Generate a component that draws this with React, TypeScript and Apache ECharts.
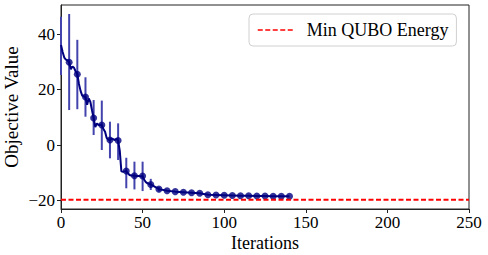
import React, { useEffect, useRef } from "react";
import * as echarts from "echarts";

// line (per-iteration early, every 5 later)
const lineIters = [
  0, 1, 2, 3, 4, 5, 6, 7, 8, 9, 10, 11, 12, 13, 14, 15, 16, 17, 18, 19, 20,
  21, 22, 23, 24, 25, 26, 27, 28, 29, 30, 31, 32, 33, 34, 35, 36, 37, 38, 39, 40,
  41, 42, 43, 44, 45, 46, 47, 48, 49, 50, 51, 52, 53, 54, 55,
  60, 65, 70, 75, 80, 85, 90, 95, 100, 105, 110, 115, 120, 125, 130, 135, 140,
];
const lineValues = [
  36, 33.5, 31.5, 30.8, 30.5, 29.8, 27.3, 28.3, 27.8, 26.5, 25.5, 22, 19.5, 17.8, 17.5, 17.3, 14.5, 16.8, 15.5, 12.5, 9.7,
  6.5, 7.8, 7.2, 7.3, 7.2, 5.8, 4.8, 2.5, 2.0, 1.8, 2.3, 2.1, 1.8, 2.2, 1.6, -2, -9.5, -9.6, -9.5, -9.4,
  -10.2, -10.8, -11, -11, -11.1, -11.2, -11.2, -11.2, -11.3, -11.2, -12.5, -13.4, -13.8, -14, -14.2,
  -15.9, -16.5, -16.8, -17.0, -17.2, -17.4, -17.9, -18.0, -18.1, -18.2, -18.3, -18.3, -18.4, -18.4, -18.5, -18.5, -18.5,
];

// markers and error bars every 5 iterations
const markerIters = [5, 10, 15, 20, 25, 30, 35, 40, 45, 50, 55, 60, 65, 70, 75, 80, 85, 90, 95, 100, 105, 110, 115, 120, 125, 130, 135, 140];
const errIters = [0, 5, 10, 15, 20, 25, 30, 35, 40, 45, 50, 55, 60];
const errCenters = [35.7, 29.9, 25.4, 17.3, 9.9, 7.1, 1.8, 1.2, -10.1, -11.0, -11.3, -14.2, -15.9];
const errSizes = [10.5, 17.3, 12.5, 7.1, 6.3, 8.9, 6.6, 6.6, 5.5, 5.0, 5.3, 2.0, 0.8];

const minEnergy = -19.7;

const yTicks = [-20, 0, 20, 40];

const FONT = "'Liberation Serif', 'Times New Roman', serif";

export default function App() {
  const ref = useRef<HTMLDivElement>(null);
  useEffect(() => {
    if (!ref.current) return;
    const chart = echarts.init(ref.current, undefined, { renderer: "svg" });
    const lineData = lineIters.map((x, i) => [x, lineValues[i]]);
    const markerData = markerIters.map((x) => [x, lineValues[lineIters.indexOf(x)]]);
    const errData = errIters.map((x, i) => [x, errCenters[i] - errSizes[i], errCenters[i] + errSizes[i]]);
    chart.setOption({
      animation: false,
      backgroundColor: "#fff",
      grid: {
        left: 61, right: 19, top: 5, bottom: 46,
        containLabel: false, outerBoundsMode: "none",
        show: true, borderColor: "#222", borderWidth: 1, backgroundColor: "transparent",
      },
      legend: {
        data: ["Min QUBO Energy"],
        left: 249,
        top: 14,
        padding: [7, 8, 7, 8],
        itemWidth: 36,
        itemHeight: 16,
        backgroundColor: "#fff",
        borderColor: "#d0d0d0",
        borderWidth: 1,
        borderRadius: 4,
        itemStyle: { color: "transparent", borderWidth: 0, opacity: 0 },
        lineStyle: { color: "#ff0000", width: 1.5, type: [5, 2.5] },
        textStyle: { fontFamily: FONT, fontSize: 18, color: "#000", padding: [0, 0, 0, 8] },
      },
      xAxis: {
        type: "value",
        min: 0,
        max: 250,
        interval: 50,
        name: "Iterations",
        nameLocation: "middle",
        nameGap: 25,
        nameMoveOverlap: false,
        nameTextStyle: { fontFamily: FONT, fontSize: 18, color: "#000" },
        axisLine: { show: true, onZero: false, lineStyle: { color: "#222", width: 1 } },
        axisTick: { show: true, inside: false, length: 4, lineStyle: { color: "#222" } },
        axisLabel: { fontFamily: FONT, fontSize: 17, color: "#000", margin: 5 },
        splitLine: { show: false },
      },
      yAxis: {
        type: "value",
        min: -23.06,
        max: 50.45,
        name: "Objective Value",
        nameLocation: "middle",
        nameGap: 40,
        nameMoveOverlap: false,
        nameTextStyle: { fontFamily: FONT, fontSize: 19, color: "#000" },
        axisLine: { show: true, onZero: false, lineStyle: { color: "#222", width: 1 } },
        axisTick: { show: true, inside: false, length: 4, lineStyle: { color: "#222" }, customValues: yTicks },
        axisLabel: {
          fontFamily: FONT,
          fontSize: 17,
          color: "#000",
          margin: 6,
          customValues: yTicks,
          showMinLabel: true,
          showMaxLabel: true,
          formatter: (v: number) => (v < 0 ? "\u2212" + Math.abs(v) : String(v)),
        },
        splitLine: { show: false },
      },
      series: [
        {
          type: "custom",
          name: "errors",
          z: 1,
          data: errData,
          renderItem: (params: any, api: any) => {
            const x = api.value(0);
            const p1 = api.coord([x, api.value(1)]);
            const p2 = api.coord([x, api.value(2)]);
            return {
              type: "line",
              shape: { x1: p1[0], y1: p1[1], x2: p2[0], y2: p2[1] },
              style: { stroke: "#4343ad", lineWidth: 2 },
            };
          },
        },
        {
          type: "line",
          name: "objective",
          z: 2,
          data: lineData,
          showSymbol: false,
          symbol: "none",
          lineStyle: { color: "#00007f", width: 2 },
        },
        {
          type: "scatter",
          name: "markers",
          z: 3,
          data: markerData,
          symbolSize: 7,
          itemStyle: { color: "#00007f" },
        },
        {
          type: "line",
          name: "Min QUBO Energy",
          z: 4,
          data: [[0, minEnergy], [250, minEnergy]],
          symbol: "none",
          color: "#ff0000",
          lineStyle: { color: "#ff0000", width: 2, type: [5, 2.5] },
        },
      ],
    });
    return () => chart.dispose();
  }, []);
  return <div ref={ref} style={{ position: "fixed", left: 0, top: 0, width: 488, height: 255 }} />;
}
